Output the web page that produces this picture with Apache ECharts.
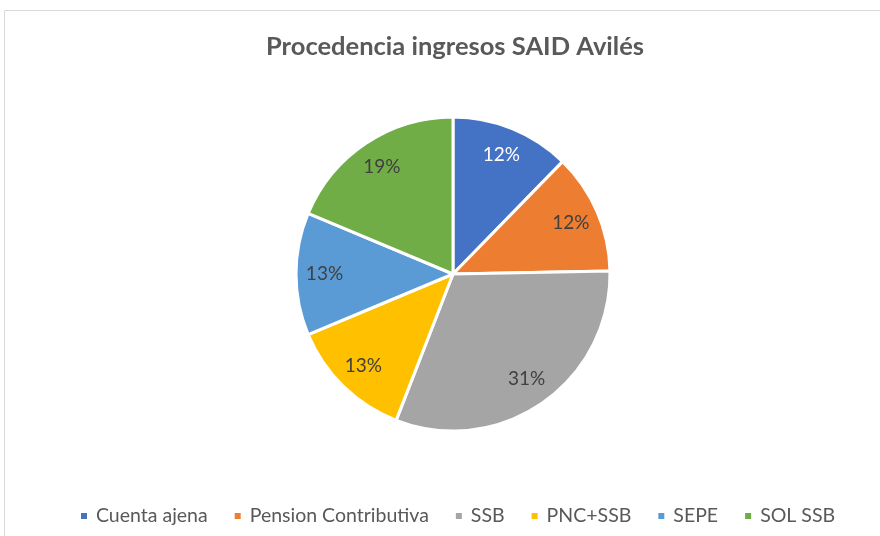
<!DOCTYPE html>
<html><head><meta charset="utf-8">
<script src="https://cdn.jsdelivr.net/npm/echarts@6/dist/echarts.min.js"></script>
<style>html,body{margin:0;padding:0;background:#fff}#c{width:880px;height:536px}</style>
</head><body><div id="c"></div>
<script>
const categories = ['Cuenta ajena','Pension Contributiva','SSB','PNC+SSB','SEPE','SOL SSB'];
const values = [12.3, 12.4, 31.2, 12.8, 12.6, 18.7];
const colors = ['#4472C4','#ED7D31','#A5A5A5','#FFC000','#5B9BD5','#70AD47'];
const labelColors = ['#ffffff','#404040','#404040','#404040','#404040','#404040'];
const total = values.reduce((a,b)=>a+b,0);
const chart = echarts.init(document.getElementById('c'));
const FONT = 'Lato';
chart.setOption({
  animation:false,
  color: colors,
  graphic:[{type:'rect',shape:{x:4.5,y:10.5,width:900,height:600},style:{fill:'none',stroke:'#d9d9d9',lineWidth:1},silent:true,z:-1}],
  title:{text:'Procedencia ingresos SAID Avilés',left:450,top:29,textAlign:'center',
    textStyle:{fontFamily:FONT,fontSize:25.5,fontWeight:'bold',color:'#595959'}},
  legend:{top:501,left:74,icon:'rect',itemWidth:8,itemHeight:8,itemGap:25,
    data:categories,
    textStyle:{fontFamily:FONT,fontSize:19.5,color:'#595959',padding:[0,0,0,3]}},
  series:[
    {type:'pie',center:[453,274],radius:[0,157],startAngle:90,clockwise:true,
     itemStyle:{borderColor:'#fff',borderWidth:3},
     label:{show:false},labelLine:{show:false},
     data:categories.map((n,i)=>({name:n,value:values[i]}))},
    {type:'pie',center:[453,274],radius:[94,157],startAngle:90,clockwise:true,silent:true,
     itemStyle:{color:'transparent',borderWidth:0},
     label:{show:true,position:'inside',fontFamily:FONT,fontSize:19,
       formatter:p=>Math.round(p.value/total*100)+'%'},
     labelLine:{show:false},
     data:categories.map((n,i)=>({name:n,value:values[i],label:{color:labelColors[i]}}))}
  ]
});
</script></body></html>
